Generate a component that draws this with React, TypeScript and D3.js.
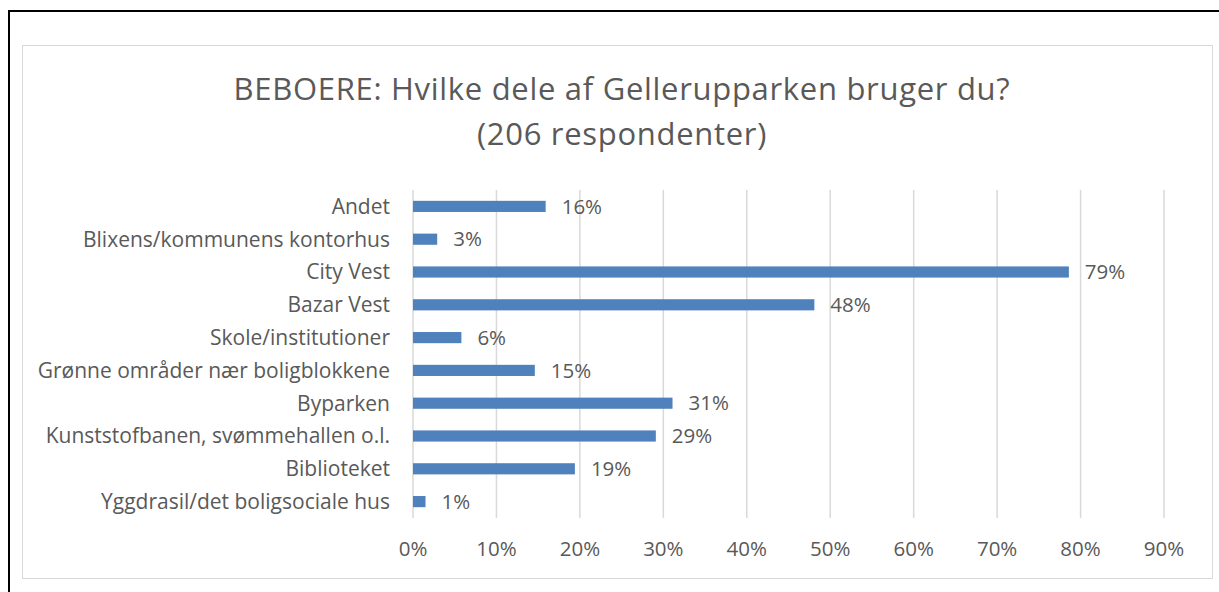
import React from 'react';
import { scaleBand, scaleLinear, range } from 'd3';

const categories = [
  'Andet',
  'Blixens/kommunens kontorhus',
  'City Vest',
  'Bazar Vest',
  'Skole/institutioner',
  'Grønne områder nær boligblokkene',
  'Byparken',
  'Kunststofbanen, svømmehallen o.l.',
  'Biblioteket',
  'Yggdrasil/det boligsociale hus',
];
const values = [0.159, 0.029, 0.786, 0.481, 0.058, 0.146, 0.311, 0.291, 0.194, 0.015];
const valueLabels = ['16%', '3%', '79%', '48%', '6%', '15%', '31%', '29%', '19%', '1%'];
const ticks = range(0, 10).map(i => i / 10);

const width = 1219;
const height = 592;
const font = '"Open Sans", sans-serif';
const textColor = '#595959';
const barColor = '#4f81bd';

const plot = { left: 413, right: 1164, top: 190, bottom: 518 };

function App() {
  const xScale = scaleLinear().domain([0, 0.9]).range([plot.left, plot.right]);
  const yScale = scaleBand()
    .domain(categories)
    .range([plot.top, plot.bottom])
    .paddingInner(0.66)
    .paddingOuter(0.33);

  return (
    <svg width={width} height={height} style={{ position: 'absolute', left: 0, top: 0 }}>
      <rect x={0} y={0} width={width} height={height} fill="#fff" />
      <rect x={9} y={11} width={1220} height={600} fill="none" stroke="#000" strokeWidth={2} />
      <rect x={22.5} y={45.5} width={1190} height={533} fill="#fff" stroke="#d9d9d9" strokeWidth={1} />

      {/* title, two centred lines */}
      <text x={622} y={100} textAnchor="middle" fontFamily={font} fontSize={31} letterSpacing={0.7} fill={textColor}>
        BEBOERE: Hvilke dele af Gellerupparken bruger du?
      </text>
      <text x={622} y={145} textAnchor="middle" fontFamily={font} fontSize={31} letterSpacing={0.7} fill={textColor}>
        (206 respondenter)
      </text>

      {ticks.map(t => (
        <g key={t}>
          <line
            x1={xScale(t)}
            x2={xScale(t)}
            y1={plot.top}
            y2={plot.bottom}
            stroke="#d9d9d9"
            strokeWidth={1.5}
          />
          <text
            x={xScale(t)}
            y={556}
            textAnchor="middle"
            fontFamily={font}
            fontSize={20.5}
            fill={textColor}
          >
            {Math.round(t * 100)}%
          </text>
        </g>
      ))}

      {categories.map((c, i) => {
        const y = yScale(c)!;
        const h = yScale.bandwidth();
        return (
          <g key={c}>
            <rect
              x={xScale(0)}
              y={y}
              width={xScale(values[i]) - xScale(0)}
              height={h}
              fill={barColor}
            />
            <text
              x={xScale(values[i]) + 16}
              y={y + h / 2}
              dy="0.35em"
              fontFamily={font}
              fontSize={20.5}
              fill={textColor}
            >
              {valueLabels[i]}
            </text>
            <text
              x={390}
              y={y + h / 2}
              dy="0.35em"
              textAnchor="end"
              fontFamily={font}
              fontSize={21}
              fill={textColor}
            >
              {c}
            </text>
          </g>
        );
      })}
    </svg>
  );
}

export default App;
